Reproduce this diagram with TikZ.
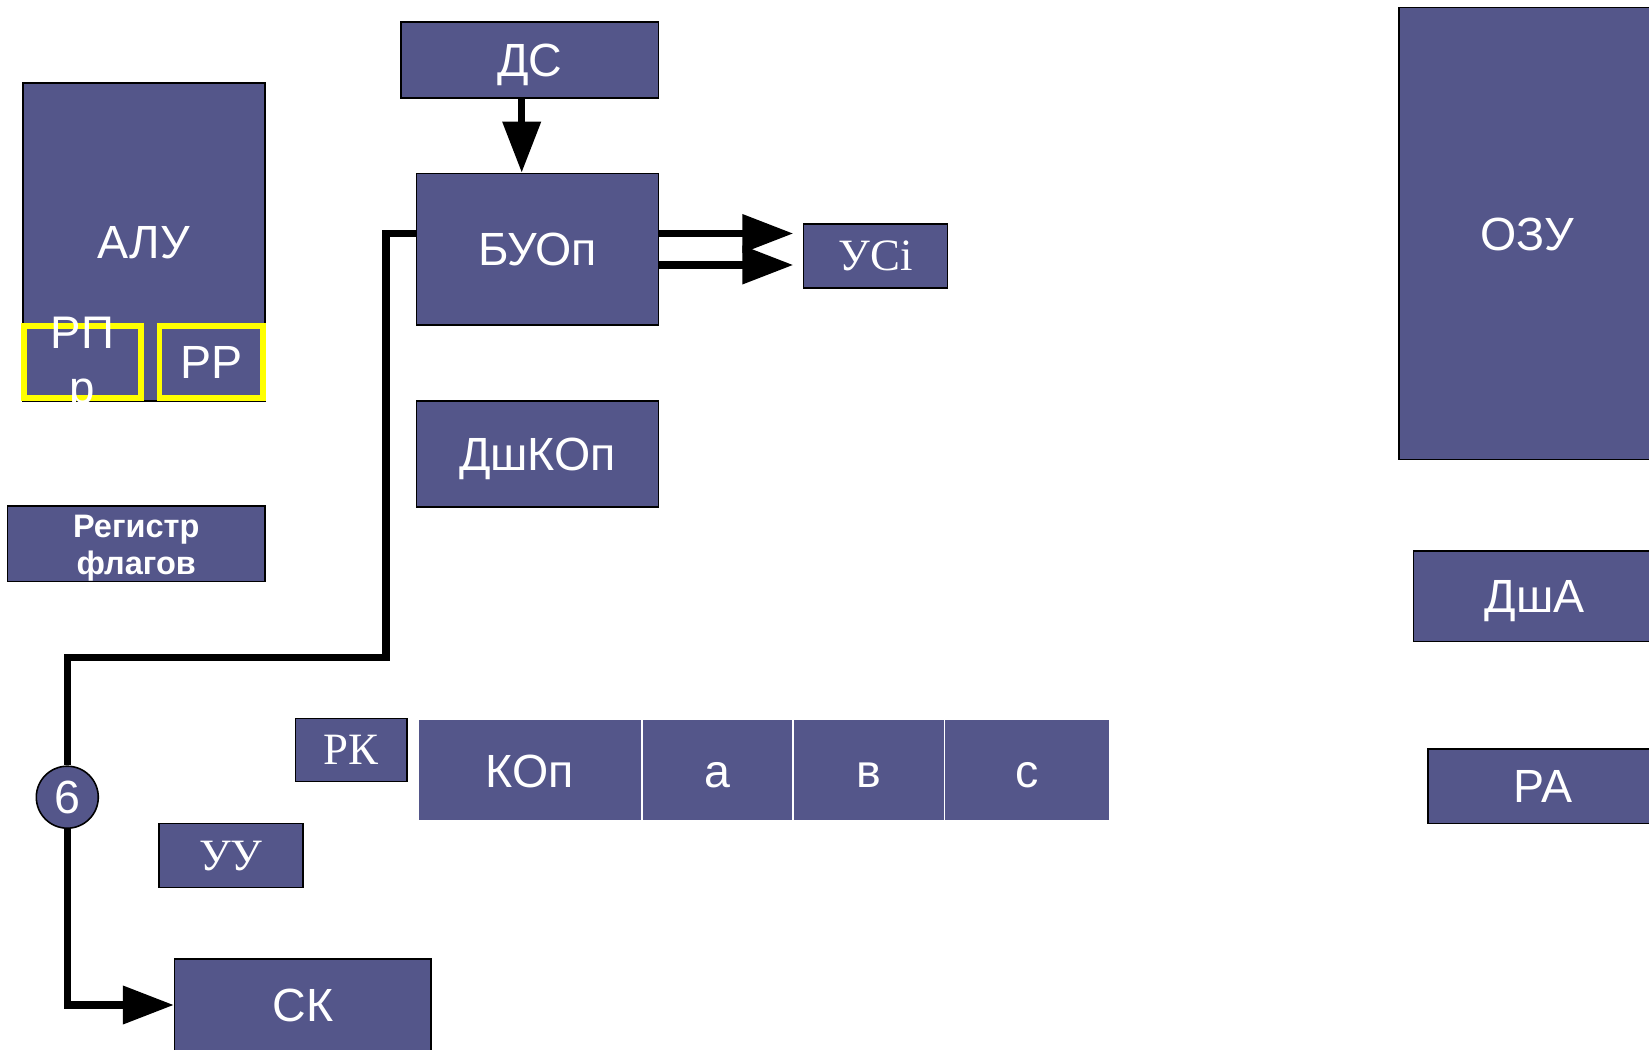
\documentclass[tikz,border=0pt]{standalone}
\usepackage{fontspec}
\setmainfont{Liberation Sans}
\newfontfamily\serifcyr{Liberation Serif}
\usetikzlibrary{arrows,arrows.meta,positioning,fit,calc}

\definecolor{blockfill}{RGB}{84,86,138}
\definecolor{regyellow}{RGB}{255,255,0}

\tikzset{
  block/.style={draw=black, line width=0.9pt, fill=blockfill, text=white, inner sep=0pt,
    font=\fontsize{26.5}{31}\selectfont, text height=19pt, text depth=0pt},
  serifblock/.style={block, font=\serifcyr\fontsize{25.5}{30}\selectfont, text height=16.9pt},
  field/.style={block, draw=white, line width=1.1pt},
  yellowreg/.style={block, draw=regyellow, line width=3.2pt},
  wire/.style={line width=4.1pt, line join=miter},
  bus/.style={wire, -{Triangle[length=1.02cm,width=0.74cm]}},
}

\begin{document}
\begin{tikzpicture}[x=0.02cm, y=-0.02cm]
\useasboundingbox (0,0) rectangle (1649,1050);

% ALU with its registers
\node[block, minimum width=4.84cm, minimum height=6.36cm] (alu) at (144,242) {АЛУ};
\node[yellowreg, minimum width=2.344cm, minimum height=1.442cm] (rpp) at (82.5,362) {};
\node[text=white, inner sep=0pt, align=center, font=\fontsize{26}{31.8}\selectfont] (rpptext) at (82.5,365) {РП\\р};
\node[yellowreg, minimum width=2.074cm, minimum height=1.442cm] (rr) at (211.4,362) {РР};
\node[block, minimum width=5.152cm, minimum height=1.512cm, align=center,
  font=\bfseries\fontsize{18.5}{21}\selectfont, text height=1.21cm] (flags) at (136.2,543.8) {Регистр\\флагов};

% control blocks
\node[block, minimum width=5.148cm, minimum height=1.516cm] (ds) at (529.7,59.9) {ДС};
\node[block, minimum width=4.838cm, minimum height=3.03cm] (buop) at (537.5,249.2) {БУОп};
\node[serifblock, minimum width=2.882cm, minimum height=1.284cm] (ysi) at (875.6,256.1) {УСi};
\node[block, minimum width=4.838cm, minimum height=2.126cm] (dshkop) at (537.5,453.9) {ДшКОп};

% memory
\node[block, minimum width=5.144cm, minimum height=9.044cm] (ozu) at (1527.4,233.5) {ОЗУ};
\node[block, minimum width=4.85cm, minimum height=1.81cm] (dsha) at (1534.8,596.3) {ДшА};
\node[block, minimum width=4.6cm, minimum height=1.494cm] (ra) at (1543,786.2) {РА};

% instruction register
\node[serifblock, minimum width=2.23cm, minimum height=1.262cm] (rk) at (351.3,749.9) {РК};
\node[field, minimum width=4.49cm, minimum height=2.04cm] (kop) at (529.8,770.4) {КОп};
\node[field, minimum width=3.02cm, minimum height=2.04cm] (fa) at (717.5,770.4) {а};
\node[field, minimum width=3.03cm, minimum height=2.04cm] (fb) at (868.8,770.4) {в};
\node[field, minimum width=3.3cm, minimum height=2.04cm] (fc) at (1027,770.4) {с};
\node[serifblock, minimum width=2.884cm, minimum height=1.282cm] (yy) at (230.9,855.6) {УУ};
\node[block, minimum width=5.132cm, minimum height=1.84cm] (sk) at (302.9,1005) {СК};

% connections
\draw[bus] ([xshift=-0.16cm]ds.south) -- ([xshift=-0.16cm]ds.south |- buop.north);
\draw[bus, shorten >=0.19cm] ([yshift=0.314cm]buop.east) -- ([yshift=0.314cm]buop.east -| ysi.west);
\draw[bus, shorten >=0.19cm] ([yshift=-0.316cm]buop.east) -- ([yshift=-0.316cm]buop.east -| ysi.west);

\coordinate (turnA) at (386,657.3);
\coordinate (turnB) at (67.3,657.3);
\node[block, circle, minimum size=1.24cm] (six) at (67.3,797.2) {6};
\draw[wire] ([yshift=0.314cm]buop.west) -| (turnA) -- (turnB) -- (six);
\draw[bus] (six) -- (six |- sk.west) -- (sk.west);
\end{tikzpicture}
\end{document}
